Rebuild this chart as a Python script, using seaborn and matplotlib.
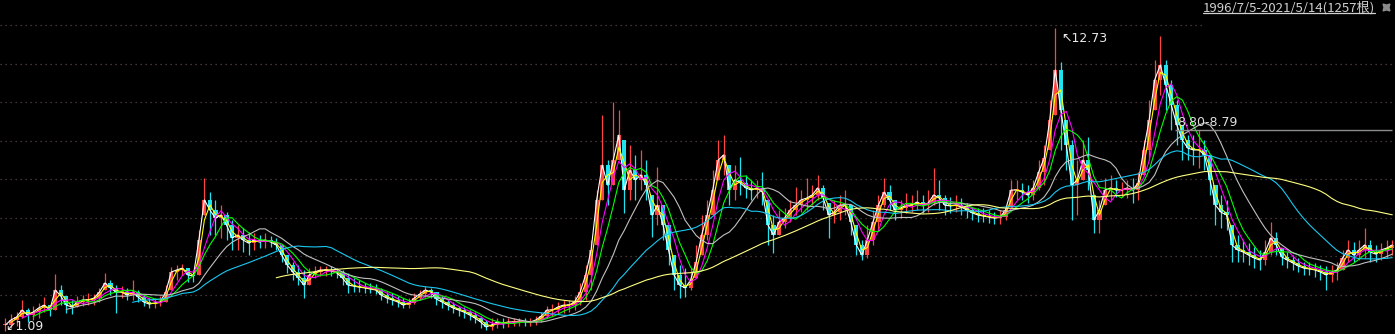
import numpy as np
import pandas as pd
import matplotlib
matplotlib.use("Agg")
import matplotlib.pyplot as plt
from matplotlib.lines import Line2D
import seaborn as sns

# ---- data: 5-week aggregated bars (price units) ----
high = [
    1.59, 1.75, 1.82, 2.29, 1.98, 2.05, 2.17, 2.40, 2.09, 3.28,
    2.86, 2.44, 2.29, 2.44, 2.48, 2.55, 2.52, 2.75, 3.32, 3.05,
    2.86, 2.82, 2.75, 3.05, 2.67, 2.48, 2.36, 2.36, 2.44, 2.86,
    3.55, 3.63, 3.67, 3.51, 3.44, 4.97, 6.97, 6.43, 6.13, 5.93,
    5.66, 5.36, 5.17, 5.05, 4.90, 4.86, 4.78, 4.86, 4.74, 4.67,
    4.40, 4.01, 3.74, 3.63, 3.44, 3.51, 3.59, 3.59, 3.59, 3.59,
    3.51, 3.44, 3.32, 3.13, 3.05, 2.94, 2.94, 2.90, 2.75, 2.59,
    2.55, 2.44, 2.36, 2.36, 2.55, 2.67, 2.82, 2.75, 2.59, 2.44,
    2.29, 2.21, 2.05, 2.02, 1.90, 1.82, 1.67, 1.52, 1.59, 1.59,
    1.59, 1.59, 1.59, 1.59, 1.59, 1.59, 1.67, 1.82, 2.05, 2.13,
    2.21, 2.29, 2.29, 2.44, 2.94, 3.63, 4.59, 6.51, 9.39, 7.66,
    9.89, 9.58, 8.43, 8.24, 7.86, 8.05, 7.66, 6.32, 7.39, 5.93,
    5.17, 4.01, 3.63, 3.51, 3.51, 4.40, 5.55, 6.13, 7.28, 8.43,
    8.62, 7.47, 7.47, 7.78, 7.09, 6.90, 6.90, 7.20, 6.13, 5.55,
    5.74, 5.82, 6.13, 6.63, 6.51, 6.97, 6.70, 7.09, 6.70, 6.01,
    6.13, 6.32, 6.51, 5.93, 5.17, 4.59, 5.17, 5.74, 6.32, 6.97,
    6.70, 6.13, 6.13, 6.40, 6.32, 6.51, 6.32, 6.51, 7.36, 6.90,
    6.32, 6.24, 6.32, 6.20, 6.01, 5.86, 5.82, 5.82, 5.74, 5.66,
    5.74, 5.93, 6.90, 6.90, 6.78, 6.70, 6.90, 7.66, 8.24, 9.97,
    12.73, 11.43, 9.20, 8.43, 7.66, 8.43, 8.55, 6.32, 6.13, 6.97,
    7.09, 6.90, 6.82, 6.90, 6.97, 7.20, 8.43, 9.97, 11.50, 12.43,
    11.50, 10.74, 9.97, 9.01, 8.62, 8.62, 8.82, 8.43, 7.86, 6.70,
    6.32, 6.13, 5.17, 4.78, 4.59, 4.47, 4.32, 4.21, 4.59, 5.28,
    4.90, 4.28, 4.13, 4.01, 3.90, 3.74, 3.74, 3.71, 3.63, 3.59,
    3.63, 3.74, 4.21, 4.59, 4.51, 4.59, 5.05, 4.59, 4.40, 4.47,
    4.59, 4.59,
]
low = [
    1.09, 1.21, 1.29, 1.59, 1.44, 1.52, 1.59, 1.82, 1.67, 1.90,
    2.09, 1.79, 1.75, 2.02, 2.05, 2.09, 2.09, 2.21, 2.67, 2.48,
    1.79, 2.36, 2.29, 2.29, 2.21, 2.05, 1.98, 1.98, 2.05, 2.21,
    2.67, 3.05, 3.25, 2.98, 2.98, 3.25, 5.55, 4.78, 4.78, 4.67,
    4.59, 4.21, 4.21, 4.13, 4.01, 4.21, 4.28, 4.28, 4.32, 4.21,
    3.74, 3.32, 3.05, 2.86, 2.36, 2.86, 3.13, 3.21, 3.21, 3.21,
    3.13, 2.86, 2.55, 2.59, 2.59, 2.55, 2.55, 2.52, 2.29, 2.17,
    2.09, 2.02, 1.98, 1.98, 2.13, 2.29, 2.40, 2.36, 2.09, 1.98,
    1.90, 1.79, 1.67, 1.59, 1.52, 1.40, 1.21, 1.12, 1.13, 1.21,
    1.21, 1.25, 1.29, 1.29, 1.29, 1.29, 1.33, 1.44, 1.59, 1.67,
    1.75, 1.79, 1.82, 1.90, 2.09, 2.29, 2.67, 4.40, 6.13, 5.93,
    6.70, 7.66, 5.63, 6.13, 6.13, 6.51, 6.13, 4.70, 5.17, 4.59,
    3.63, 2.67, 2.36, 2.40, 2.67, 3.13, 4.01, 4.59, 5.55, 6.90,
    7.09, 5.93, 6.13, 6.32, 6.20, 6.13, 6.20, 5.93, 4.40, 4.09,
    4.78, 5.05, 5.28, 5.55, 5.66, 5.74, 5.93, 6.13, 5.74, 4.67,
    5.24, 5.36, 5.55, 4.78, 4.01, 3.82, 3.90, 4.40, 4.97, 5.86,
    5.74, 5.36, 5.43, 5.63, 5.66, 5.74, 5.63, 5.66, 5.93, 5.74,
    5.55, 5.63, 5.66, 5.55, 5.43, 5.36, 5.28, 5.28, 5.24, 5.20,
    5.20, 5.36, 5.86, 6.13, 6.13, 6.01, 6.13, 6.51, 6.70, 8.05,
    9.39, 8.05, 7.28, 5.36, 5.55, 6.90, 6.51, 4.86, 4.86, 5.93,
    6.13, 6.24, 6.24, 6.20, 6.01, 6.13, 7.09, 7.66, 9.58, 10.16,
    9.58, 8.82, 8.24, 7.66, 7.66, 7.47, 7.36, 7.28, 6.32, 5.17,
    5.05, 4.97, 3.74, 3.74, 3.74, 3.63, 3.51, 3.44, 3.63, 4.01,
    4.01, 3.63, 3.51, 3.44, 3.36, 3.25, 3.25, 3.17, 3.05, 2.67,
    2.98, 3.05, 3.44, 3.74, 3.74, 3.82, 3.90, 3.74, 3.74, 3.82,
    3.90, 4.01,
]
close = [
    1.33, 1.52, 1.63, 1.90, 1.71, 1.82, 1.98, 2.09, 1.90, 2.67,
    2.44, 2.09, 2.02, 2.21, 2.29, 2.29, 2.36, 2.59, 2.94, 2.75,
    2.59, 2.59, 2.48, 2.59, 2.40, 2.21, 2.13, 2.17, 2.21, 2.59,
    3.36, 3.44, 3.51, 3.25, 3.21, 4.59, 6.13, 5.74, 5.43, 5.55,
    5.17, 4.67, 4.78, 4.59, 4.47, 4.59, 4.51, 4.59, 4.51, 4.40,
    4.01, 3.63, 3.36, 3.13, 2.86, 3.25, 3.36, 3.44, 3.44, 3.40,
    3.32, 3.13, 2.86, 2.82, 2.78, 2.75, 2.71, 2.67, 2.48, 2.36,
    2.29, 2.21, 2.09, 2.17, 2.36, 2.52, 2.67, 2.59, 2.32, 2.21,
    2.09, 1.98, 1.90, 1.82, 1.71, 1.59, 1.44, 1.25, 1.33, 1.44,
    1.40, 1.44, 1.44, 1.48, 1.44, 1.44, 1.52, 1.67, 1.90, 1.90,
    2.02, 2.09, 2.09, 2.21, 2.59, 3.25, 4.21, 6.13, 7.47, 6.70,
    7.66, 8.62, 6.51, 7.28, 6.90, 7.09, 6.70, 5.55, 5.93, 5.17,
    4.21, 3.25, 2.86, 2.75, 3.05, 3.74, 4.78, 5.55, 6.51, 7.66,
    7.86, 6.51, 6.90, 6.78, 6.59, 6.51, 6.59, 6.43, 5.17, 4.78,
    5.28, 5.43, 5.74, 5.93, 6.13, 6.20, 6.32, 6.59, 6.20, 5.55,
    5.66, 5.93, 5.93, 5.28, 4.40, 4.01, 4.59, 5.28, 5.93, 6.43,
    6.13, 5.74, 5.82, 5.93, 5.93, 6.05, 5.93, 6.01, 6.32, 6.20,
    5.93, 5.90, 5.93, 5.86, 5.74, 5.63, 5.55, 5.51, 5.47, 5.43,
    5.47, 5.74, 6.51, 6.51, 6.43, 6.32, 6.59, 7.20, 7.74, 9.20,
    11.12, 9.58, 8.24, 6.70, 6.90, 7.66, 7.28, 5.36, 5.74, 6.51,
    6.59, 6.51, 6.51, 6.59, 6.51, 6.78, 8.05, 9.20, 10.74, 11.31,
    10.54, 9.78, 9.01, 8.43, 8.12, 8.05, 8.05, 7.86, 6.90, 5.93,
    5.66, 5.55, 4.40, 4.21, 4.13, 4.01, 3.90, 3.82, 4.13, 4.67,
    4.40, 3.94, 3.82, 3.71, 3.59, 3.51, 3.48, 3.44, 3.36, 3.25,
    3.36, 3.44, 3.90, 4.21, 4.01, 4.21, 4.40, 4.13, 4.05, 4.21,
    4.28, 4.40,
]

ma_names = ["MA5", "MA10", "MA20", "MA30", "MA60", "MA120", "MA250"]
ma_windows = [1, 2, 4, 6, 12, 24, 50]          # in 5-week bars
ma_colors = ["#ffffff", "#ffff00", "#ff00ff", "#00ff00", "#c0c0c0", "#19c8f0", "#ffff80"]

grid_levels = [12.85, 11.37, 9.89, 8.41, 6.93, 5.45, 3.97, 2.49]
range_text = "1996/7/5-2021/5/14(1257根)"
max_label = "↖12.73"
max_price = 12.73
min_label = "↙1.09"
min_price = 1.09
level_label = "8.80-8.79"
level_price = 8.80

assert len(high) == len(low) == len(close)

# ---- style ----
sns.set_theme(style="dark", rc={"axes.facecolor": "black", "figure.facecolor": "black"})
plt.rcParams["font.family"] = ["Noto Sans CJK SC", "DejaVu Sans"]

W, H = 1395, 334
fig = plt.figure(figsize=(W / 100, H / 100), dpi=100, facecolor="black")
ax = fig.add_axes([0, 0, 1, 1])
ax.set_facecolor("black")

n = len(close)
x = np.arange(n)
c = np.array(close)
hi = np.array(high)
lo = np.array(low)
o = np.clip(np.r_[c[0], c[:-1]], lo, hi)
up = c >= o
RED, CYAN = "#ff4444", "#1ee4f0"
cols = np.where(up, RED, CYAN)

x0 = -5.5 / 5.525
x1 = (W - 5.5) / 5.525
ax.set_xlim(x0, x1)
ax.set_ylim(0.98, 13.81)

# grid
for g in grid_levels:
    xe = (1205 - 5.5) / 5.525 if g == grid_levels[0] else x1
    ax.hlines(g, x0, xe, colors="#5a4646", linestyles=(0, (1, 3)), linewidth=0.9, zorder=0)

# candles
ax.vlines(x, lo, hi, colors=cols, linewidth=0.9, zorder=2)
body_h = np.maximum(np.abs(c - o), 0.03)
ax.bar(x, body_h, bottom=np.minimum(o, c), width=0.76, color=cols, linewidth=0, zorder=2)

# moving averages
s = pd.Series(c)
frames = []
for name, w in zip(ma_names, ma_windows):
    frames.append(pd.DataFrame({"x": x, "value": s.rolling(w).mean(), "ma": name}))
long = pd.concat(frames).dropna()
sns.lineplot(data=long, x="x", y="value", hue="ma", hue_order=ma_names,
             palette=dict(zip(ma_names, ma_colors)), linewidth=0.8, legend=False,
             ax=ax, zorder=3, estimator=None)

# annotations
imax = int(np.argmax(hi))
ax.text(imax + 1.0, max_price - 0.38, max_label, color="#e8e8e8", fontsize=9,
        ha="left", va="center", family=["DejaVu Sans"])
ax.text(-0.1, min_price + 0.16, min_label, color="#e8e8e8", fontsize=9,
        ha="left", va="center", family=["DejaVu Sans"])
lx = (1175 - 5.5) / 5.525
ax.hlines(level_price, lx, (1392 - 5.5) / 5.525, colors="#8c8c8c", linewidth=1.0, zorder=4)
ax.text(lx + 0.3, level_price + 0.32, level_label, color="#e0e0e0", fontsize=9,
        ha="left", va="center", family=["DejaVu Sans"], zorder=5)

ax.set_xticks([])
ax.set_yticks([])
ax.set_xlabel("")
ax.set_ylabel("")
for sp in ax.spines.values():
    sp.set_visible(False)

t = fig.text(1375 / W, 1 - 1 / H, range_text, color="#d0d0d0", fontsize=9.5,
             ha="right", va="top")
fig.canvas.draw()
bb = t.get_window_extent()
fig.add_artist(Line2D([bb.x0 / W, bb.x1 / W], [(bb.y0 + 1) / H] * 2,
                      color="#d0d0d0", linewidth=0.9))
fig.add_artist(Line2D([1386 / W], [1 - 7 / H], marker=(4, 1, 45), markersize=7,
                      color="#8a8a8a", linestyle="none"))

fig.savefig("out.png", dpi=100, facecolor="black")
